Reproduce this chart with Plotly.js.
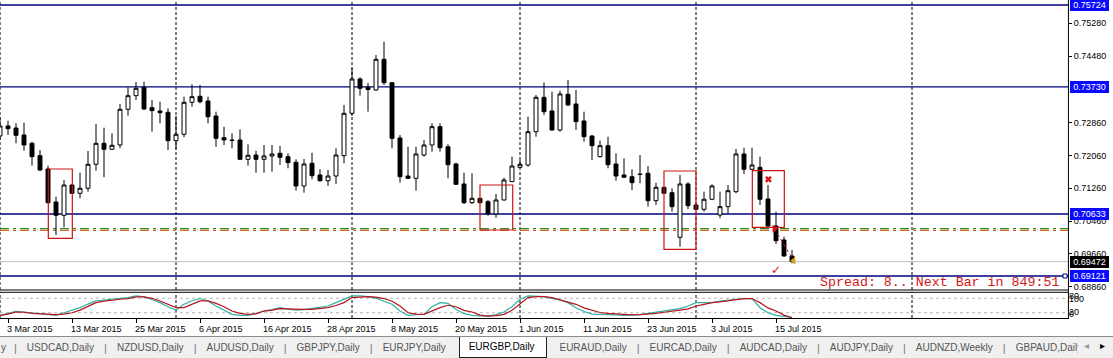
<!DOCTYPE html>
<html>
<head>
<meta charset="utf-8">
<script src="https://cdn.plot.ly/plotly-3.0.1.min.js"></script>
<style>
html,body{margin:0;padding:0;background:#fff;width:1113px;height:358px;overflow:hidden;}
#chart{width:1113px;height:336px;}
#tabs{position:relative;width:1113px;height:22px;background:#f0f0f0;border-top:1px solid #8c8c8c;box-sizing:border-box;
  font-family:"Liberation Sans",Arial,sans-serif;font-size:10px;color:#555;white-space:nowrap;overflow:hidden;display:flex;align-items:center;}
.tab{padding:0 10px;line-height:20px;}
.tab.first{padding:0 8px 0 1px;}
.sep{color:#777;font-size:11px;line-height:20px;}
.sep.hidden{visibility:hidden;}
.tab.active{background:#fff;color:#000;border:1px solid #222;border-top:none;padding:0 11px 0 9px;height:22px;line-height:21px;
  box-sizing:border-box;align-self:flex-start;margin-top:-1px;}
#arrows{position:absolute;right:0;top:0;width:35px;height:21px;background:#f0f0f0;font-family:"DejaVu Sans",sans-serif;font-size:10px;}
#arrows span{position:absolute;top:3px;}
</style>
</head>
<body>
<div id="chart"></div>
<div id="tabs"></div>
<script>
// ---------- data ----------
const dates = [
"2015-03-02","2015-03-03","2015-03-04","2015-03-05","2015-03-06","2015-03-09","2015-03-10","2015-03-11","2015-03-12","2015-03-13",
"2015-03-16","2015-03-17","2015-03-18","2015-03-19","2015-03-20","2015-03-23","2015-03-24","2015-03-25","2015-03-26","2015-03-27",
"2015-03-30","2015-03-31","2015-04-01","2015-04-02","2015-04-03","2015-04-06","2015-04-07","2015-04-08","2015-04-09","2015-04-10",
"2015-04-13","2015-04-14","2015-04-15","2015-04-16","2015-04-17","2015-04-20","2015-04-21","2015-04-22","2015-04-23","2015-04-24",
"2015-04-27","2015-04-28","2015-04-29","2015-04-30","2015-05-01","2015-05-04","2015-05-05","2015-05-06","2015-05-07","2015-05-08",
"2015-05-11","2015-05-12","2015-05-13","2015-05-14","2015-05-15","2015-05-18","2015-05-19","2015-05-20","2015-05-21","2015-05-22",
"2015-05-25","2015-05-26","2015-05-27","2015-05-28","2015-05-29","2015-06-01","2015-06-02","2015-06-03","2015-06-04","2015-06-05",
"2015-06-08","2015-06-09","2015-06-10","2015-06-11","2015-06-12","2015-06-15","2015-06-16","2015-06-17","2015-06-18","2015-06-19",
"2015-06-22","2015-06-23","2015-06-24","2015-06-25","2015-06-26","2015-06-29","2015-06-30","2015-07-01","2015-07-02","2015-07-03",
"2015-07-06","2015-07-07","2015-07-08","2015-07-09","2015-07-10","2015-07-13","2015-07-14","2015-07-15","2015-07-16","2015-07-17"];

const open = [
0.72532,0.72776,0.72727,0.72557,0.72354,0.72052,0.71728,0.70924,0.70600,0.71338,
0.71136,0.71258,0.71843,0.72354,0.72208,0.72313,0.73183,0.73514,0.73719,0.73222,
0.73141,0.73110,0.72418,0.72574,0.73353,0.73500,0.73385,0.73020,0.72491,0.72435,
0.72435,0.71964,0.72069,0.71964,0.72045,0.72111,0.72028,0.71891,0.71314,0.71867,
0.71582,0.71443,0.71557,0.72052,0.73085,0.73921,0.73719,0.73653,0.74401,0.73831,
0.72483,0.71557,0.71501,0.72069,0.72313,0.72759,0.72271,0.71850,0.71363,0.70907,
0.71014,0.70931,0.70632,0.70973,0.71419,0.71769,0.71826,0.72637,0.73475,0.73141,
0.72678,0.73548,0.73312,0.72898,0.72532,0.72028,0.72296,0.71850,0.71582,0.71540,
0.71606,0.71623,0.70956,0.71282,0.71151,0.70064,0.71363,0.70851,0.70746,0.70990,
0.70607,0.70810,0.71175,0.72094,0.71721,0.71769,0.70997,0.70339,0.69998,0.69608];

const high = [
0.72995,0.72905,0.72842,0.72856,0.72393,0.72191,0.71809,0.71053,0.71460,0.71363,
0.71638,0.72167,0.72825,0.72734,0.72598,0.73312,0.73719,0.73848,0.73855,0.73409,
0.73368,0.73207,0.73020,0.73490,0.73792,0.73775,0.73490,0.73124,0.72759,0.72598,
0.72695,0.72330,0.72174,0.72313,0.72313,0.72289,0.72111,0.71964,0.71972,0.72125,
0.71721,0.71704,0.72233,0.73288,0.74182,0.73963,0.73824,0.74506,0.74830,0.73831,
0.72557,0.72271,0.72271,0.72435,0.72842,0.72842,0.72330,0.71882,0.71638,0.71623,
0.71021,0.70973,0.71119,0.71516,0.72028,0.71947,0.73002,0.73531,0.73831,0.73612,
0.73636,0.73897,0.73653,0.73124,0.72557,0.72418,0.72515,0.72111,0.71989,0.71721,
0.72069,0.71801,0.71394,0.71290,0.71258,0.71582,0.71404,0.70875,0.71175,0.71355,
0.71175,0.71338,0.72215,0.72247,0.72247,0.72028,0.71338,0.70688,0.70078,0.69754];

const low = [
0.72435,0.72557,0.72354,0.72174,0.71809,0.71679,0.70887,0.70120,0.70308,0.71119,
0.71014,0.71175,0.71687,0.71526,0.72191,0.72233,0.73027,0.73409,0.73166,0.72637,
0.72842,0.72191,0.72208,0.72500,0.73246,0.73329,0.72842,0.72271,0.72313,0.72233,
0.71947,0.71809,0.71638,0.71638,0.71662,0.71826,0.71745,0.71199,0.71151,0.71477,
0.71419,0.71314,0.71363,0.71867,0.73020,0.73514,0.73124,0.73636,0.73775,0.72233,
0.71394,0.71484,0.71199,0.72028,0.72150,0.72150,0.71501,0.71338,0.70875,0.70875,
0.70900,0.70590,0.70541,0.70961,0.71411,0.71765,0.71784,0.72515,0.73044,0.72666,
0.72637,0.73263,0.72678,0.72393,0.71947,0.72013,0.71745,0.71443,0.71521,0.71216,
0.71380,0.70810,0.70851,0.71131,0.70688,0.69835,0.70753,0.70729,0.70688,0.70973,
0.70527,0.70649,0.71136,0.71606,0.71704,0.70851,0.70322,0.69901,0.69591,0.69430];

const close = [
0.72776,0.72710,0.72549,0.72313,0.72028,0.71704,0.70907,0.70600,0.71338,0.71136,
0.71258,0.71843,0.72354,0.72208,0.72306,0.73183,0.73514,0.73694,0.73190,0.73149,
0.73100,0.72418,0.72574,0.73353,0.73490,0.73368,0.73002,0.72476,0.72435,0.72422,
0.71964,0.72062,0.71964,0.72045,0.72094,0.72013,0.71882,0.71314,0.71850,0.71565,
0.71443,0.71557,0.72069,0.73085,0.73921,0.73694,0.73665,0.74401,0.73831,0.72476,
0.71540,0.71501,0.72094,0.72313,0.72759,0.72247,0.71833,0.71355,0.70907,0.71014,
0.70907,0.70632,0.70973,0.71460,0.71801,0.71843,0.72637,0.73475,0.73124,0.72678,
0.73556,0.73288,0.72881,0.72515,0.72296,0.72296,0.71833,0.71557,0.71526,0.71394,
0.71594,0.70956,0.71282,0.71136,0.70810,0.71363,0.70834,0.70746,0.70990,0.71314,
0.70810,0.71199,0.72094,0.71721,0.71826,0.70990,0.70339,0.69981,0.69608,0.69472];

// Stochastic oscillator (main and signal)
const stochMain = [
9,18,26,23,20,15,12,9,20,30, 41,56,69,73,76,80,83,90,86,75,
62,45,31,55,70,79,69,48,30,13, 9,9,17,27,33,41,35,31,33,37,
42,48,62,76,90,90,87,80,69,55, 27,9,12,13,45,62,59,34,16,9,
7,6,12,23,45,76,90,89,87,80, 73,62,41,25,14,13,13,11,9,9,
12,17,22,27,33,37,48,62,62,62, 68,73,76,79,79,41,20,9,3,0];
const stochSignal = [
9,14,23,22,17,15,14,12,14,20, 31,47,62,68,73,76,79,86,86,80,
69,56,41,41,55,69,69,59,45,27, 17,13,15,27,31,37,36,34,34,34,
37,41,50,62,83,86,87,85,79,68, 48,20,14,13,27,41,51,45,30,23,
10,6,8,13,30,55,83,87,87,83, 73,66,55,40,31,21,17,14,11,11,
12,13,17,22,25,31,36,48,55,62, 65,69,73,79,79,62,40,27,10,0];
const stochLevels = [80, 20];

// date axis labels
const labelDates = ["2015-03-03","2015-03-13","2015-03-25","2015-04-06","2015-04-16","2015-04-28","2015-05-08",
                    "2015-05-20","2015-06-01","2015-06-11","2015-06-23","2015-07-03","2015-07-15"];
const labelTexts = ["3 Mar 2015","13 Mar 2015","25 Mar 2015","6 Apr 2015","16 Apr 2015","28 Apr 2015","8 May 2015",
                    "20 May 2015","1 Jun 2015","11 Jun 2015","23 Jun 2015","3 Jul 2015","15 Jul 2015"];
// month-start separators (last one falls in the future area, counted in calendar days)
const separatorDates = ["2015-03-02","2015-04-01","2015-05-01","2015-06-01","2015-07-01","2015-08-01"];

// price scale labels
const priceTicks = [0.75280,0.74480,0.72860,0.72060,0.71260,0.70460,0.69660,0.68860];
// horizontal lines drawn on chart
const levelLines = [0.75724,0.73730,0.70633,0.69121];
const entryLine = 0.70273;   // green dash-dot
const stopLine  = 0.70234;   // orange dash-dot

// rectangles (bar index start/end, price top/bottom)
const zoneStart = [6.04, 60.0, 83.0, 94.04];
const zoneEnd   = [9.04, 64.09, 87.0, 98.04];
const zoneTop   = [0.71728, 0.71338, 0.71679, 0.71687];
const zoneBot   = [0.70039, 0.70242, 0.69771, 0.70307];

// trade marks
const dealBars   = [96.8, 99.2];
const dealPrices = [0.70273, 0.69494];
const crossBar = [96.05], crossPrice = [0.71477];
const checkBar = [97.0],  checkPrice = [0.69247];

const spreadText = "Spread: 8.. Next Bar in 849:51";
const tabs = ["USDCAD,Daily","NZDUSD,Daily","AUDUSD,Daily","GBPJPY,Daily","EURJPY,Daily","EURGBP,Daily",
              "EURAUD,Daily","EURCAD,Daily","AUDCAD,Daily","AUDJPY,Daily","AUDNZD,Weekly","GBPAUD,Daily"];
const activeTab = "EURGBP,Daily";

// ---------- chart ----------
const FONT = '"Liberation Sans", Arial, sans-serif';
const xs = dates.map((d, i) => i);
const lastDate = new Date(dates[dates.length - 1] + "T00:00:00Z");
function barIndex(d) {
  const k = dates.indexOf(d);
  if (k >= 0) return k;
  // future area: MT4 extends the time scale by calendar days
  return dates.length - 1 + Math.round((new Date(d + "T00:00:00Z") - lastDate) / 86400000);
}
const labelIdx = labelDates.map(barIndex);

const H = 318;                 // plot area height (px)
const py = p => 1 - p / H;     // pixel row -> paper y
const mainBottom = py(290), subTop = py(292.3);

const traces = [
  {type: 'candlestick', x: xs, open: open, high: high, low: low, close: close,
   xaxis: 'x', yaxis: 'y', whiskerwidth: 0, hoverinfo: 'skip', showlegend: false,
   increasing: {line: {color: '#000', width: 1}, fillcolor: '#fff'},
   decreasing: {line: {color: '#000', width: 1}, fillcolor: '#000'}},
  {type: 'scatter', mode: 'lines', x: xs, y: stochMain, xaxis: 'x', yaxis: 'y2',
   line: {color: '#2fb0a6', width: 1.2}, hoverinfo: 'skip'},
  {type: 'scatter', mode: 'lines', x: xs, y: stochSignal, xaxis: 'x', yaxis: 'y2',
   line: {color: '#b8141e', width: 1.2}, hoverinfo: 'skip'},
  {type: 'scatter', mode: 'lines', x: dealBars, y: dealPrices, xaxis: 'x', yaxis: 'y',
   line: {color: '#d01010', width: 1, dash: 'dot'}, hoverinfo: 'skip'},
  {type: 'scatter', mode: 'markers', x: [dealBars[0]], y: [dealPrices[0]], xaxis: 'x', yaxis: 'y',
   marker: {symbol: 'triangle-right', size: 7, color: '#e01010'}, hoverinfo: 'skip'},
  {type: 'scatter', mode: 'markers', x: [dealBars[1]], y: [dealPrices[1]], xaxis: 'x', yaxis: 'y',
   marker: {symbol: 'triangle-left', size: 7, color: '#e0a020'}, hoverinfo: 'skip', cliponaxis: false},
  {type: 'scatter', mode: 'markers', x: crossBar, y: crossPrice, xaxis: 'x', yaxis: 'y',
   marker: {symbol: 'x', size: 6, color: '#e01010', line: {width: 0}}, hoverinfo: 'skip'},
  {type: 'scatter', mode: 'text', x: checkBar, y: checkPrice, xaxis: 'x', yaxis: 'y', text: ['✓'],
   textfont: {family: '"DejaVu Sans", sans-serif', size: 12, color: '#e01010'}, hoverinfo: 'skip'}
];

const shapes = [];
// month separators
separatorDates.map(barIndex).forEach(ix => {
  [[mainBottom, 1], [0, subTop]].forEach(([a, b]) => shapes.push({
    type: 'line', xref: 'x', yref: 'paper', x0: ix, x1: ix, y0: a, y1: b, layer: 'below',
    line: {color: '#000', width: 1, dash: '3px,2px'}}));
});
// level lines
levelLines.forEach(v => shapes.push({type: 'line', xref: 'paper', yref: 'y', x0: 0, x1: 1, y0: v, y1: v,
  layer: 'below', line: {color: '#000080', width: 1.4}}));
shapes.push({type: 'line', xref: 'paper', yref: 'y', x0: 0, x1: 1, y0: entryLine, y1: entryLine, layer: 'below',
  line: {color: '#2e8b22', width: 1.3, dash: '9px,4px,3px,4px'}});
shapes.push({type: 'line', xref: 'paper', yref: 'y', x0: 0, x1: 1, y0: stopLine, y1: stopLine, layer: 'below',
  line: {color: '#d2691e', width: 1.3, dash: '9px,4px,3px,4px'}});
// bid line
const bid = close[close.length - 1];
shapes.push({type: 'line', xref: 'paper', yref: 'y', x0: 0, x1: 1, y0: bid, y1: bid, layer: 'below',
  line: {color: '#c0c0c0', width: 1}});
// stochastic levels
stochLevels.forEach(v => shapes.push({type: 'line', xref: 'paper', yref: 'y2', x0: 0, x1: 1, y0: v, y1: v,
  layer: 'below', line: {color: '#b8b8b8', width: 1, dash: '3px,3px'}}));
// zones
zoneStart.forEach((s, k) => shapes.push({type: 'rect', xref: 'x', yref: 'y', x0: s, x1: zoneEnd[k],
  y0: zoneBot[k], y1: zoneTop[k], layer: 'above', line: {color: '#cc1414', width: 1.2}, fillcolor: 'rgba(0,0,0,0)'}));
// window frames
shapes.push({type: 'line', xref: 'paper', yref: 'paper', x0: 0, x1: 1, y0: mainBottom, y1: mainBottom, line: {color: '#000', width: 1}});
shapes.push({type: 'line', xref: 'paper', yref: 'paper', x0: 0, x1: 1, y0: subTop, y1: subTop, line: {color: '#000', width: 1}});
shapes.push({type: 'line', xref: 'paper', yref: 'paper', x0: 0, x1: 1, y0: py(318.5), y1: py(318.5), line: {color: '#000', width: 1}});
shapes.push({type: 'line', xref: 'paper', yref: 'paper', x0: 1.0004, x1: 1.0004, y0: py(319), y1: 1, line: {color: '#000', width: 1}});
// small end marker on the lowest level line
shapes.push({type: 'rect', xref: 'paper', yref: 'y', x0: 1063 / 1068, x1: 1067 / 1068,
  ysizemode: 'pixel', yanchor: levelLines[3], y0: -2, y1: 2, line: {color: '#000080', width: 1}, fillcolor: '#fff'});

const annotations = [];
// highlighted price labels
levelLines.forEach(v => annotations.push({xref: 'paper', yref: 'y', x: 1, xanchor: 'left', xshift: 2, y: v, yanchor: 'middle',
  text: v.toFixed(5), showarrow: false, bgcolor: '#0a0aff', borderpad: 1, borderwidth: 0, width: 37, height: 10,
  font: {family: FONT, size: 9, color: '#fff'}}));
annotations.push({xref: 'paper', yref: 'y', x: 1, xanchor: 'left', xshift: 2, y: bid, yanchor: 'middle',
  text: bid.toFixed(5), showarrow: false, bgcolor: '#000', borderpad: 1, borderwidth: 0, width: 37, height: 10,
  font: {family: FONT, size: 9, color: '#fff'}});
// stochastic scale labels (overlapping, as in the terminal)
[['80', 80, 2], ['100', 80, -1], ['20', 20, 1], ['0', 20, -1]].forEach(([t, v, s]) => annotations.push({
  xref: 'paper', yref: 'y2', x: 1, xanchor: 'left', xshift: 1, y: v, yshift: s, yanchor: 'middle', text: t,
  showarrow: false, borderpad: 0, borderwidth: 0, font: {family: FONT, size: 9, color: '#000'}}));
// spread / timer text
annotations.push({xref: 'paper', yref: 'paper', x: 1059 / 1068, xanchor: 'right', y: py(282), yanchor: 'middle',
  text: spreadText, showarrow: false, borderpad: 0, borderwidth: 0,
  font: {family: '"Liberation Mono", "Courier New", monospace', size: 13.3, color: '#d01818'}});
// date labels
labelIdx.forEach((ix, k) => annotations.push({xref: 'x', yref: 'paper', x: ix, xanchor: 'left', xshift: -1,
  y: py(328.5), yanchor: 'middle', text: labelTexts[k], showarrow: false, borderpad: 0, borderwidth: 0,
  font: {family: FONT, size: 9, color: '#000'}}));

const layout = {
  width: 1113, height: 336, margin: {l: 0, r: 45, t: 0, b: 18},
  paper_bgcolor: '#fff', plot_bgcolor: '#fff', showlegend: false, dragmode: false,
  xaxis: {range: [0, 133.5], anchor: 'y2', showgrid: false, zeroline: false, showline: false,
          tickmode: 'array', tickvals: labelIdx, ticks: 'outside', ticklen: 4, tickwidth: 1, tickcolor: '#000',
          showticklabels: false, rangeslider: {visible: false}, fixedrange: true},
  yaxis: {domain: [mainBottom, 1], range: [0.687795, 0.758458], anchor: 'x', side: 'right',
          tickmode: 'array', tickvals: priceTicks, ticktext: priceTicks.map(v => v.toFixed(5)),
          ticks: 'outside', ticklen: 3, tickwidth: 1, tickcolor: '#000',
          tickfont: {family: FONT, size: 9, color: '#000'}, showgrid: false, zeroline: false, showline: false, fixedrange: true},
  yaxis2: {domain: [0, subTop], range: [-2, 105], anchor: 'x', showticklabels: false, ticks: '',
           showgrid: false, zeroline: false, showline: false, fixedrange: true},
  shapes: shapes, annotations: annotations
};

Plotly.newPlot('chart', traces, layout, {staticPlot: true, displayModeBar: false});

// ---------- tab bar ----------
let html = '<span class="tab first">y</span>';
tabs.forEach((t, i) => {
  const hide = t === activeTab || (i > 0 && tabs[i - 1] === activeTab);
  html += '<span class="sep' + (hide ? ' hidden' : '') + '">|</span>';
  html += '<span class="tab' + (t === activeTab ? ' active' : '') + '">' + t + '</span>';
});
html += '<div id="arrows"><span style="left:6px;color:#999">◂</span><span style="left:22px;color:#000">▸</span></div>';
document.getElementById('tabs').innerHTML = html;
</script>
</body>
</html>
